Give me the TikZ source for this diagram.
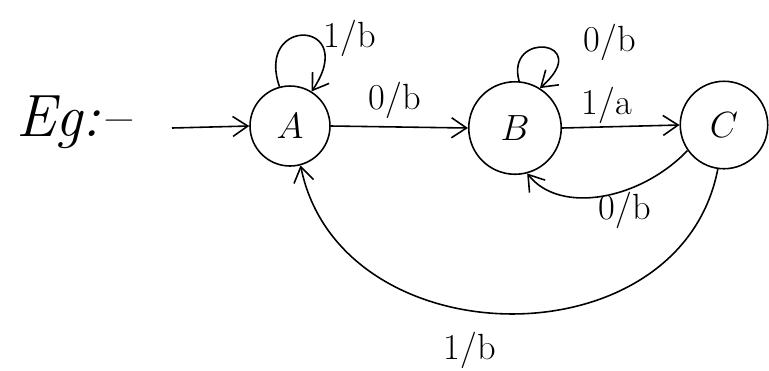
\documentclass[tikz,border=0pt]{standalone}
\usepackage{tikz}
\usetikzlibrary{arrows.meta,positioning}

\tikzset{
  state/.style={draw, circle, line width=0.9pt, minimum size=1.6cm, inner sep=0pt, font=\huge},
  trans/.style={-{Straight Barb[length=3mm,width=4mm]}, line width=0.9pt},
  lbl/.style={font=\huge, inner sep=1pt}
}

\begin{document}
\begin{tikzpicture}[x=0.02cm,y=-0.02cm]
  \useasboundingbox (0,0) rectangle (769,370);

  % states
  \node[state] (A) at (290,126) {$A$};
  \node[state, minimum size=1.85cm] (B) at (515,128) {$B$};
  \node[state, minimum size=1.75cm] (C) at (724,125) {$C$};

  % start
  \node[font=\fontsize{34}{36}\selectfont\itshape, anchor=west] (eg) at (10,122) {Eg:--};
  \coordinate (start) at (172,128);
  \draw[trans] (start) -- (A.west);

  % transitions
  \draw[trans] (A.105) .. controls (255,15) and (360,20) .. (A.58);
  \draw[trans] (A.east) -- (B.west);
  \draw[trans] (B.85) .. controls (505,30) and (595,40) .. (B.58);
  \draw[trans] (B.east) -- (C.west);
  \draw[trans] (C.215) .. controls (640,200) and (560,215) .. (B.285);
  \draw[trans] (C.262) .. controls (680,365) and (340,360) .. (A.285);

  % labels
  \node[lbl] (lAA) at (350,38) {1/b};
  \node[lbl] (lAB) at (395,100) {0/b};
  \node[lbl] (lBB) at (610,42) {0/b};
  \node[lbl] (lBC) at (607,105) {1/a};
  \node[lbl] (lCB) at (625,210) {0/b};
  \node[lbl] (lCA) at (470,350) {1/b};
\end{tikzpicture}
\end{document}
